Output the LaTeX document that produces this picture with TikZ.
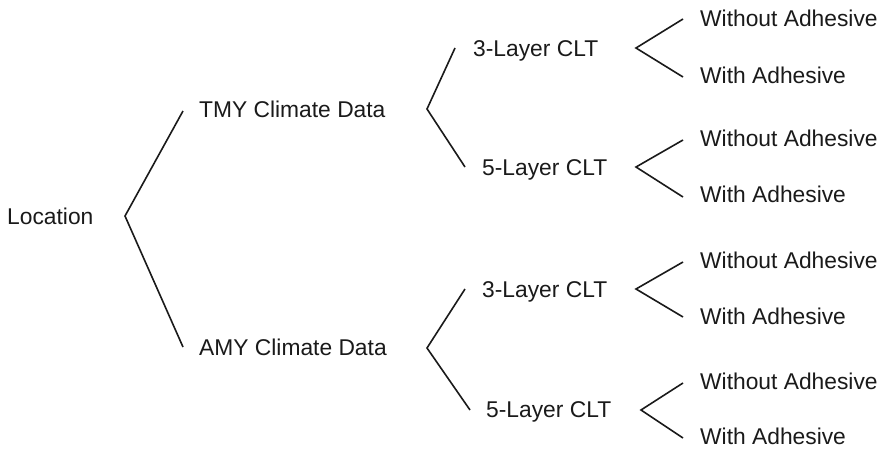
\documentclass[tikz,border=0pt]{standalone}
\usepackage{fontspec}
\setmainfont{Liberation Sans}
\definecolor{ink}{HTML}{1A1A1A}
\begin{document}
\begin{tikzpicture}[x=1pt,y=-1pt,
  lbl/.style={anchor=west, inner sep=0pt, text height=16.4pt, text depth=0pt,
    font=\fontsize{22.8}{27}\selectfont, text=ink},
  branch/.style={draw=ink, line width=1.6pt, line join=miter, line cap=butt}]
  \fill[white] (0,0) rectangle (886,450);
  \useasboundingbox (0,0) rectangle (886,450);

  % root and climate data sets
  \node[lbl] (loc) at (7,216) {Location};
  \node[lbl] (tmy) at (199,109) {TMY Climate Data};
  \node[lbl] (amy) at (199,347) {AMY Climate Data};

  % panel types
  \node[lbl] (t3) at (473,48)  {3-Layer CLT};
  \node[lbl] (t5) at (482,167) {5-Layer CLT};
  \node[lbl] (a3) at (482,289) {3-Layer CLT};
  \node[lbl] (a5) at (486,409) {5-Layer CLT};

  % adhesive variants
  \node[lbl] (t3n) at (700,18)  {Without Adhesive};
  \node[lbl] (t3y) at (700,75)  {With Adhesive};
  \node[lbl] (t5n) at (700,138) {Without Adhesive};
  \node[lbl] (t5y) at (700,194) {With Adhesive};
  \node[lbl] (a3n) at (700,260) {Without Adhesive};
  \node[lbl] (a3y) at (700,316) {With Adhesive};
  \node[lbl] (a5n) at (700,381) {Without Adhesive};
  \node[lbl] (a5y) at (700,436) {With Adhesive};

  % fork points
  \coordinate (floc) at (125,216);
  \coordinate (ftmy) at (427,109);
  \coordinate (famy) at (427,348);
  \coordinate (ft3) at (636,48);
  \coordinate (ft5) at (636,167);
  \coordinate (fa3) at (636,289);
  \coordinate (fa5) at (641,410);

  % branches
  \draw[branch] ([shift={(-16,2)}]tmy.west) -- (floc) -- ([xshift=-16]amy.west);
  \draw[branch] ([xshift=-18]t3.west) -- (ftmy) -- ([xshift=-17]t5.west);
  \draw[branch] ([xshift=-17]a3.west) -- (famy) -- ([shift={(-16,1)}]a5.west);
  \draw[branch] ([shift={(-17,1)}]t3n.west) -- (ft3) -- ([shift={(-17,2)}]t3y.west);
  \draw[branch] ([shift={(-17,2)}]t5n.west) -- (ft5) -- ([shift={(-17,3)}]t5y.west);
  \draw[branch] ([shift={(-17,2)}]a3n.west) -- (fa3) -- ([shift={(-17,1)}]a3y.west);
  \draw[branch] ([shift={(-17,2)}]a5n.west) -- (fa5) -- ([shift={(-17,2)}]a5y.west);
\end{tikzpicture}
\end{document}
